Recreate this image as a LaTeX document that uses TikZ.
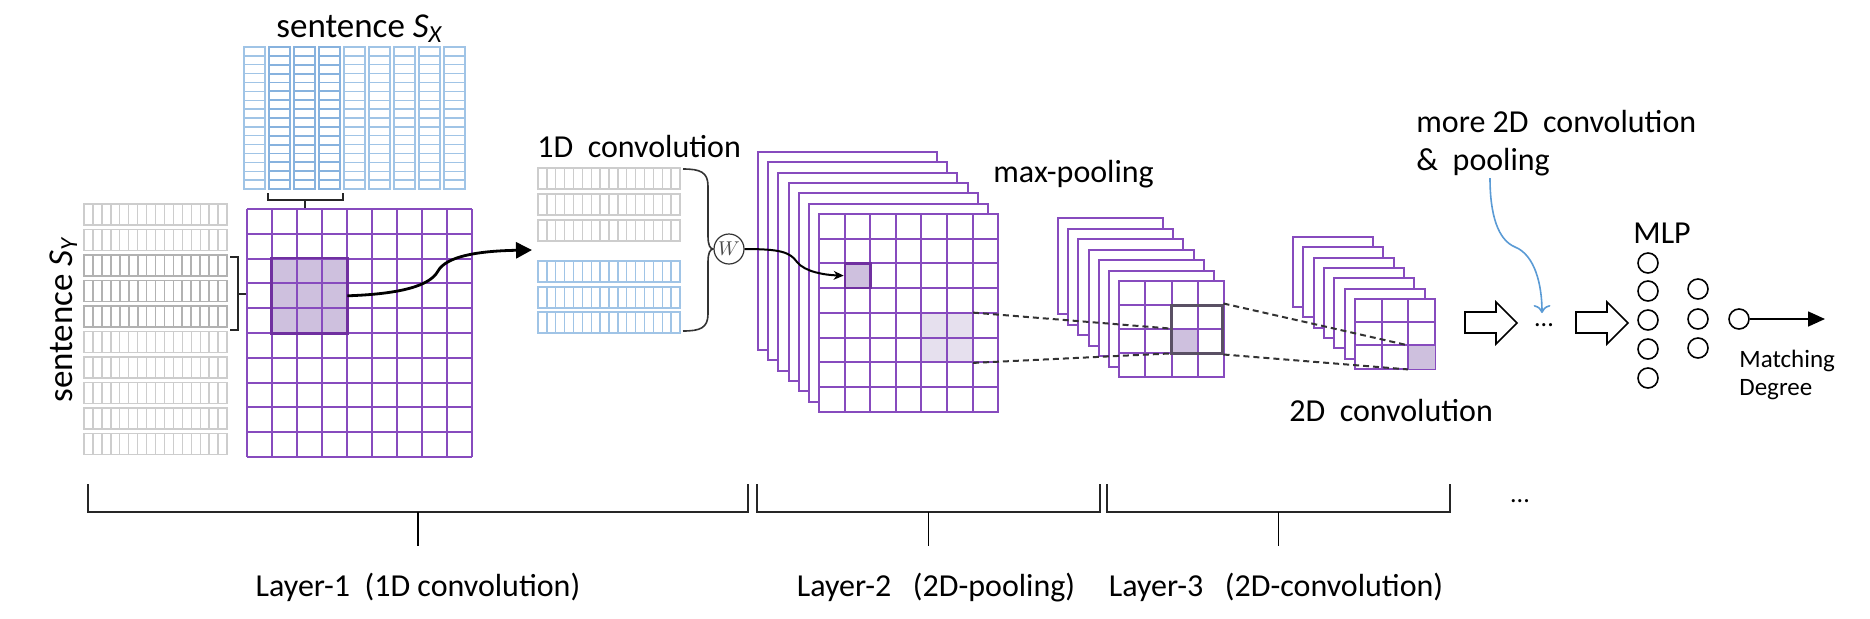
\documentclass[tikz,border=0pt]{standalone}
\usepackage{fontspec}
\setmainfont{Carlito}
\usepackage{xcolor}
\usepackage{tikz}
\usetikzlibrary{positioning, calc, arrows, arrows.meta, fit}

\definecolor{gridpurple}{RGB}{135,75,190}
\definecolor{selpurple}{RGB}{112,48,160}
\definecolor{selfill}{RGB}{206,192,222}
\definecolor{lightfill}{RGB}{230,224,238}
\definecolor{sxblue}{RGB}{160,196,230}
\definecolor{sxdark}{RGB}{135,178,222}
\definecolor{sygray}{RGB}{205,205,205}
\definecolor{sydark}{RGB}{178,178,178}
\definecolor{boxgray}{RGB}{90,80,100}
\definecolor{notebl}{RGB}{91,155,213}

\begin{document}
\begin{tikzpicture}[x=0.5pt, y=-0.5pt,
  every node/.style={inner sep=0pt},
  lbl/.style={font=\fontsize{16}{19}\selectfont, anchor=base west},
  pgrid/.style={draw=gridpurple, line width=1pt},
  fmap/.style={draw=gridpurple, fill=white, line width=1pt},
  sxcol/.style={draw=sxblue, line width=0.7pt},
  sxsel/.style={draw=sxdark, line width=0.9pt},
  syrow/.style={draw=sygray, line width=0.7pt},
  sysel/.style={draw=sydark, line width=0.9pt},
  brk/.style={draw=black!85, line width=1.2pt},
  dashline/.style={draw=black!80, line width=1pt, dash pattern=on 3pt off 2pt},
  neuron/.style={circle, draw, line width=0.8pt, minimum size=10pt}]

\useasboundingbox (0,0) rectangle (1870,618);

%// sentence S_X on top
\foreach \c in {0,...,8}{
  \draw[sxcol] (244+25*\c,47) rectangle ++(21,142);
  \foreach \r in {1,...,15}
    \draw[sxcol] (244+25*\c,47+8.875*\r) -- ++(21,0);
}
\foreach \c in {1,2,3}{
  \draw[sxsel] (244+25*\c,47) rectangle ++(21,142);
  \foreach \r in {1,...,15}
    \draw[sxsel] (244+25*\c,47+8.875*\r) -- ++(21,0);
}
\node[font=\fontsize{17.5}{20}\selectfont, anchor=base west] (sx) at (276,37) {sentence \textit{S}\textsubscript{\textit{X}}};

%// sentence S_Y on the left
\foreach \r in {0,...,9}{
  \draw[syrow] (84,204+25.5*\r) rectangle ++(143,21);
  \foreach \k in {1,...,15}
    \draw[syrow] (84+8.94*\k,204+25.5*\r) -- ++(0,21);
}
\foreach \r in {2,3,4}{
  \draw[sysel] (84,204+25.5*\r) rectangle ++(143,21);
  \foreach \k in {1,...,15}
    \draw[sysel] (84+8.94*\k,204+25.5*\r) -- ++(0,21);
}
\node[font=\fontsize{17.5}{20}\selectfont, anchor=base west, rotate=90] (sy) at (72,403) {sentence \textit{S}\textsubscript{\textit{Y}}};

%// brackets
\draw[brk] (268,193) -- (268,200) -- (343,200) -- (343,193);
\draw[brk] (305,200) -- (305,209);
\draw[brk] (230,257) -- (238,257) -- (238,330) -- (230,330);
\draw[brk] (238,294) -- (247,294);

%// layer-1 matrix
\node[fit={(272,258.6) (347,333)}, fill=selfill] (blk) {};
\foreach \i in {0,...,9}
  \draw[pgrid] (247+25*\i,209) -- ++(0,248);
\foreach \j in {0,...,10}
  \draw[pgrid] (247,209+24.8*\j) -- ++(225,0);
\draw[draw=selpurple, line width=1.2pt] (blk.north west) rectangle (blk.south east);

%// 1D convolution
\node[lbl] (conv1) at (537,157) {1D~~convolution};
\foreach \t in {168,194,220}{
  \draw[syrow] (538,\t) rectangle ++(142,21);
  \foreach \k in {1,...,15}
    \draw[syrow] (538+8.875*\k,\t) -- ++(0,21);
}
\foreach \t in {261,287,312}{
  \draw[sxcol] (538,\t) rectangle ++(142,21);
  \foreach \k in {1,...,15}
    \draw[sxcol] (538+8.875*\k,\t) -- ++(0,21);
}
\coordinate (c1in) at (532,250);
\draw[line width=1.4pt, -{Triangle[length=8pt,width=8pt]}] (blk.east) .. controls (400,294) and (430,286) .. (438,271) .. controls (446,257) and (475,251) .. (c1in);

\node[circle, draw=black!80, line width=0.6pt, minimum size=15pt] (w) at (729,249) {\fontsize{10}{12}\selectfont\textcolor{black!70}{$W$}};
\draw[draw=black!80, line width=0.8pt] (683,169) .. controls (700,169) and (708,172) .. (708,186) -- (708,236) .. controls (708,245) and (710,249) .. (w.west);
\draw[draw=black!80, line width=0.8pt] (683,331) .. controls (700,331) and (708,328) .. (708,314) -- (708,262) .. controls (708,253) and (710,249) .. (w.west);

%// layer-2 feature maps
\foreach \k in {0,...,6}
  \filldraw[fmap] (758+10.2*\k,152+10.3*\k) rectangle ++(179,198);
\node[fit={(921.5,313) (972.6,362.5)}, fill=lightfill] (lblk) {};
\foreach \i in {1,...,6}
  \draw[pgrid] (819.2+25.57*\i,213.8) -- ++(0,198);
\foreach \j in {1,...,7}
  \draw[pgrid] (819.2,213.8+24.75*\j) -- ++(179,0);
\node[fit={(844.8,263.3) (870.4,288)}, fill=selfill, draw=selpurple, line width=1.2pt] (cellA) {};
\draw[line width=1pt, -{Stealth[length=5pt,width=4.5pt]}] (w.east) .. controls (780,249) and (790,252) .. (797,262) .. controls (805,272) and (825,275) .. (cellA.west);
\node[lbl] (maxp) at (993,182) {max-pooling};

%// layer-2 pooling maps
\foreach \k in {0,...,6}
  \filldraw[fmap] (1058+10.2*\k,218+10.5*\k) rectangle ++(105,96);
\node[fit={(1171.5,329) (1197.75,353)}, fill=selfill] (pcell) {};
\foreach \i in {1,...,3}
  \draw[pgrid] (1119.2+26.25*\i,281) -- ++(0,96);
\foreach \j in {1,...,3}
  \draw[pgrid] (1119.2,281+24*\j) -- ++(105,0);
\node[fit={(1171.5,305) (1222,353)}, draw=boxgray, line width=1.5pt] (pbox) {};

%// layer-3 maps
\foreach \k in {0,...,6}
  \filldraw[fmap] (1293+10.3*\k,237+10.3*\k) rectangle ++(80,70);
\node[fit={(1408.3,345.7) (1435,369)}, fill=selfill] (ccell) {};
\foreach \i in {1,2}
  \draw[pgrid] (1354.8+26.7*\i,298.8) -- ++(0,70);
\foreach \j in {1,2}
  \draw[pgrid] (1354.8,298.8+23.3*\j) -- ++(80,0);
\node[lbl] (conv2) at (1289,421) {2D~~convolution};

%// dashed links
\draw[dashline] (lblk.north east) -- (pcell.north west);
\draw[dashline] (lblk.south east) -- (pcell.south west);
\draw[dashline] (pbox.north east) -- (ccell.north west);
\draw[dashline] (pbox.south east) -- (ccell.south west);

%// more layers
\draw[line width=0.8pt] (1465,312) -- (1496,312) -- (1496,302) -- (1517,323) -- (1496,344) -- (1496,333) -- (1465,333) -- cycle;
\node[font=\fontsize{13}{15}\selectfont, anchor=base] (dots) at (1544,326) {...};
\draw[line width=0.8pt] (1576,312) -- (1607,312) -- (1607,302) -- (1628,323) -- (1607,344) -- (1607,333) -- (1576,333) -- cycle;
\node[lbl] (more1) at (1416,132) {more 2D~~convolution};
\node[lbl] (more2) at (1416,170) {\&~~pooling};
\coordinate (moreend) at (1542,313);
\draw[draw=notebl, line width=0.8pt, -{To[length=4pt]}] (1490,178) .. controls (1490,215) and (1498,240) .. (1515,247) .. controls (1535,255) and (1542,285) .. (moreend);

%// MLP
\node[lbl] (mlp) at (1633,243) {MLP};
\foreach \n/\y in {1/263,2/291,3/320,4/349,5/378}
  \node[neuron] (m\n) at (1648,\y) {};
\foreach \n/\y in {1/289,2/319,3/348}
  \node[neuron] (h\n) at (1698,\y) {};
\node[neuron] (out) at (1739,319) {};
\coordinate (mend) at (1825,319);
\draw[line width=0.8pt, -{Triangle[length=8.5pt,width=7.5pt]}] (out) -- (mend);
\node[font=\fontsize{12.5}{15}\selectfont, anchor=base west] (match) at (1739,367) {Matching};
\node[font=\fontsize{12.5}{15}\selectfont, anchor=base west] (degree) at (1739,395) {Degree};

%// layers along the bottom
\foreach \a/\b in {88/748, 757/1100, 1107/1450}{
  \draw[brk] (\a,484) -- (\a,512) -- (\b,512) -- (\b,484);
  \draw[line width=0.8pt] ({(\a+\b)/2},512) -- ++(0,34);
}
\node[lbl, anchor=base] (lay1) at (418,596) {Layer-1~~(1D convolution)};
\node[lbl, anchor=base] (lay2) at (936,596) {Layer-2~~~(2D-pooling)};
\node[lbl, anchor=base] (lay3) at (1276,596) {Layer-3~~~(2D-convolution)};
\node[font=\fontsize{13}{15}\selectfont, anchor=base] (dots2) at (1520,502) {...};
\end{tikzpicture}
\end{document}
